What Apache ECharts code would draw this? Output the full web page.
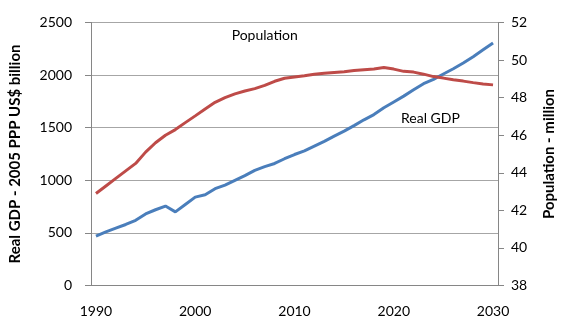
<!DOCTYPE html>
<html><head><meta charset="utf-8">
<script src="https://cdn.jsdelivr.net/npm/echarts@6/dist/echarts.min.js"></script>
<style>html,body{margin:0;padding:0;background:#fff}#c{width:565px;height:320px}</style>
</head><body><div id="c"></div>
<script>
var years = [];
for (var y = 1990; y <= 2030; y++) years.push(String(y));
var gdp = [470,510,545,580,620,680,720,755,700,770,840,862,920,955,1000,1045,1095,1130,1160,1205,1245,
           1280,1325,1370,1420,1467,1520,1575,1625,1690,1745,1800,1860,1918,1960,2010,2060,2115,2175,2240,2305];
var population = [42.9,43.3,43.7,44.1,44.5,45.1,45.6,46.0,46.3,46.67,47.03,47.4,47.75,48.0,48.2,48.35,48.48,48.65,48.87,49.03,49.1,
                  49.17,49.25,49.3,49.34,49.38,49.44,49.49,49.53,49.6,49.52,49.4,49.36,49.25,49.12,49.04,48.95,48.88,48.8,48.73,48.68];
var gdpTicks = {min:0, max:2500, interval:500};
var popTicks = {min:38, max:52, interval:2};
var leftTitle = 'Real GDP - 2005 PPP US$ billion';
var rightTitle = 'Population - million';
var annotations = [
  {text:'Population', year:'2007', value:2380, dx:0},
  {text:'Real GDP', year:'2024', value:1583, dx:-3}
];
var FONT = 'Lato';
var plain = function(v){ return String(v); };
var chart = echarts.init(document.getElementById('c'), null, {renderer:'canvas'});
chart.setOption({
  animation:false,
  textStyle:{fontFamily:FONT},
  grid:{left:87, right:58, top:22.5, bottom:34.5},
  xAxis:{type:'category', data:years, boundaryGap:true,
    axisLine:{lineStyle:{color:'#868686', width:1}},
    axisTick:{show:false},
    axisLabel:{interval:9, color:'#000', fontSize:14, fontFamily:FONT, margin:19}},
  yAxis:[
    {type:'value', min:gdpTicks.min, max:gdpTicks.max, interval:gdpTicks.interval, position:'left',
     name:leftTitle, nameLocation:'middle', nameRotate:90, nameGap:68,
     nameTextStyle:{fontSize:15, fontWeight:'bold', color:'#000', fontFamily:FONT},
     axisLine:{show:true, lineStyle:{color:'#868686'}},
     axisTick:{show:true, length:6, lineStyle:{color:'#868686'}},
     axisLabel:{color:'#000', fontSize:14, fontFamily:FONT, margin:19, formatter:plain},
     splitLine:{show:true, lineStyle:{color:'#a6a6a6', width:1}}},
    {type:'value', min:popTicks.min, max:popTicks.max, interval:popTicks.interval, position:'right',
     name:rightTitle, nameLocation:'middle', nameRotate:90, nameGap:44,
     nameTextStyle:{fontSize:15, fontWeight:'bold', color:'#000', fontFamily:FONT},
     axisLine:{show:true, lineStyle:{color:'#868686'}},
     axisTick:{show:true, length:6, lineStyle:{color:'#868686'}},
     axisLabel:{color:'#000', fontSize:14, fontFamily:FONT, margin:13, formatter:plain},
     splitLine:{show:false}}
  ],
  series:[
    {type:'line', name:'Real GDP', data:gdp, yAxisIndex:0, symbol:'none', smooth:false,
     lineStyle:{color:'#4a7ebb', width:3}, itemStyle:{color:'#4a7ebb'},
     markPoint:{symbol:'circle', symbolSize:0, silent:true,
       data:annotations.map(function(a){return {coord:[a.year, a.value],
         label:{show:true, formatter:a.text, position:'inside', offset:[a.dx,0], color:'#000', fontSize:14, fontFamily:FONT}};})}},
    {type:'line', name:'Population', data:population, yAxisIndex:1, symbol:'none', smooth:false,
     lineStyle:{color:'#be4b48', width:3}, itemStyle:{color:'#be4b48'}}
  ]
});
</script></body></html>
